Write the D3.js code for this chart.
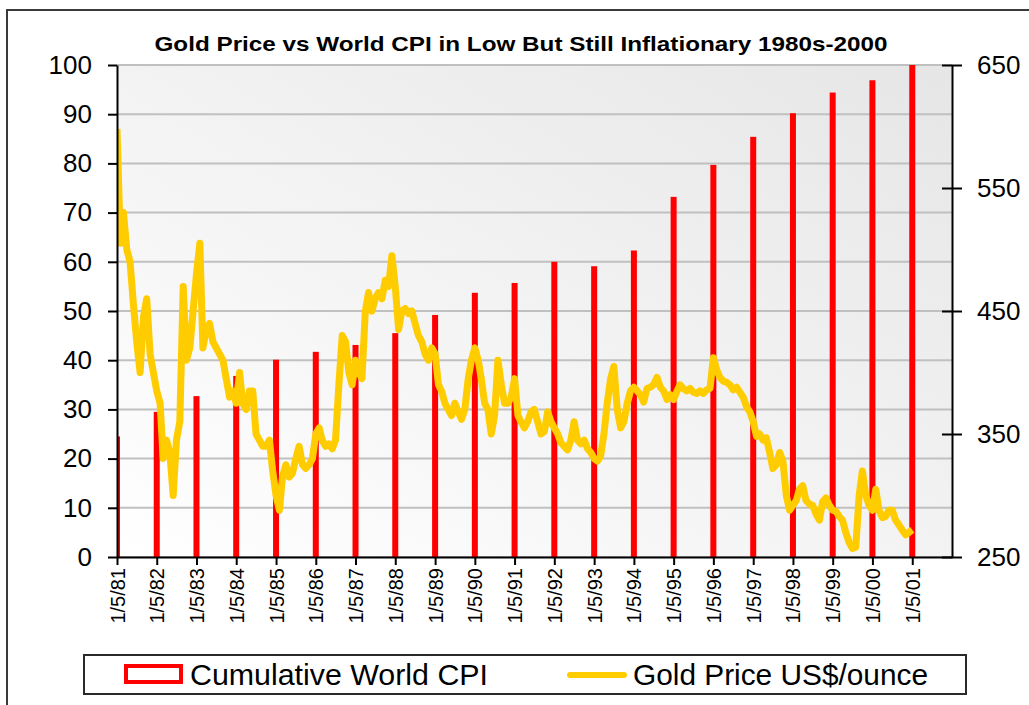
<!DOCTYPE html>
<html>
<head>
<meta charset="utf-8">
<script src="https://cdn.jsdelivr.net/npm/d3@7"></script>
<style>
  body { margin: 0; background: #fff; }
  svg text { font-family: "Liberation Sans", Arial, sans-serif; }
</style>
</head>
<body>
<div id="canvas"></div>
<script>
// CPI bars, one per year (left axis)
var years = [1981, 1982, 1983, 1984, 1985, 1986, 1987, 1988, 1989, 1990, 1991,
             1992, 1993, 1994, 1995, 1996, 1997, 1998, 1999, 2000, 2001];
var cpiValues = [24.5, 29.5, 32.7, 36.8, 40.1, 41.7, 43.1, 45.5, 49.2, 53.7, 55.7,
                 60.0, 59.1, 62.3, 73.2, 79.7, 85.4, 90.2, 94.4, 96.9, 100];
var tickLabels = ["1/5/81", "1/5/82", "1/5/83", "1/5/84", "1/5/85", "1/5/86", "1/5/87",
                  "1/5/88", "1/5/89", "1/5/90", "1/5/91", "1/5/92", "1/5/93", "1/5/94",
                  "1/5/95", "1/5/96", "1/5/97", "1/5/98", "1/5/99", "1/5/00", "1/5/01"];

// Gold price, monthly from Jan 1981 to Jan 2001 (right axis)
var goldPrices = [
  598, 505, 530, 500, 490, 455, 425, 400, 445, 460, 415, 400,   // 1981
  385, 375, 330, 345, 335, 300, 345, 360, 470, 410, 420, 450,   // 1982
  480, 505, 420, 435, 440, 425, 420, 415, 410, 395, 380, 385,   // 1983
  375, 400, 375, 370, 385, 385, 350, 345, 340, 340, 345, 320,   // 1984
  300, 288, 315, 325, 315, 318, 330, 340, 325, 322, 325, 330,   // 1985
  350, 355, 345, 340, 342, 338, 345, 390, 430, 425, 400, 390,   // 1986
  410, 400, 395, 450, 465, 450, 460, 465, 460, 475, 470, 495,   // 1987
  470, 435, 450, 452, 448, 450, 440, 430, 425, 415, 410, 420,   // 1988
  415, 390, 385, 375, 370, 365, 375, 368, 362, 370, 395, 410,   // 1989
  420, 410, 395, 375, 370, 350, 365, 410, 390, 375, 375, 380,   // 1990
  395, 365, 360, 355, 360, 368, 370, 360, 350, 352, 368, 360,   // 1991
  355, 350, 343, 340, 337, 345, 360, 345, 342, 345, 338, 335,   // 1992
  330, 328, 332, 350, 375, 395, 405, 370, 355, 360, 375, 385,   // 1993
  388, 385, 382, 376, 387, 388, 390, 396, 388, 385, 378, 382,   // 1994
  378, 385, 390, 387, 385, 387, 384, 383, 385, 383, 386, 387,   // 1995
  412, 402, 396, 393, 392, 390, 386, 388, 384, 380, 372, 368,   // 1996
  360, 348, 350, 345, 347, 335, 322, 325, 335, 328, 300, 288,   // 1997
  292, 296, 305, 308, 296, 293, 292, 285, 280, 295, 298, 292,   // 1998
  288, 287, 283, 280, 270, 262, 257, 258, 300, 320, 300, 292,   // 1999
  288, 305, 288, 282, 283, 288, 288, 280, 276, 272, 268, 270,   // 2000
  272                                                           // 2001
];

var leftTicks = [0, 10, 20, 30, 40, 50, 60, 70, 80, 90, 100];
var rightTicks = [250, 350, 450, 550, 650];

(function(d3){

  var canvas_d = {width: 1029, height: 705},
      margin = {top: 65, right: 77, bottom: 148, left: 117},
      chart_d = {
        width: canvas_d.width - margin.left - margin.right,
        height: canvas_d.height - margin.top - margin.bottom
      },
      canvas,
      chart;

  canvas = d3.select('#canvas').append('svg')
      .attr('width', canvas_d.width)
      .attr('height', canvas_d.height);

  // outer frame
  canvas.append('rect')
      .attr('x', 7).attr('y', 10)
      .attr('width', 1060).attr('height', 740)
      .attr('fill', 'none')
      .attr('stroke', '#3a3a3a')
      .attr('stroke-width', 2);

  var defs = canvas.append('defs');
  var grad = defs.append('linearGradient')
      .attr('id', 'bg')
      .attr('x1', 0).attr('y1', 1).attr('x2', 1).attr('y2', 0);
  grad.append('stop').attr('offset', '0%').attr('stop-color', '#ffffff');
  grad.append('stop').attr('offset', '100%').attr('stop-color', '#e6e6e6');

  defs.append('clipPath').attr('id', 'plotclip')
    .append('rect')
      .attr('width', chart_d.width)
      .attr('height', chart_d.height);

  chart = canvas.append('g')
      .attr('transform', 'translate(' + margin.left + ',' + margin.top + ')');

  var x = d3.scaleTime()
      .domain([new Date(1981, 0, 5), new Date(2002, 0, 5)])
      .range([0, chart_d.width]);
  var yLeft = d3.scaleLinear().domain([0, 100]).range([chart_d.height, 0]);
  var yRight = d3.scaleLinear().domain([250, 650]).range([chart_d.height, 0]);

  var tickDates = years.map(function(y){ return new Date(y, 0, 5); });

  // background
  chart.append('rect')
      .attr('width', chart_d.width)
      .attr('height', chart_d.height)
      .attr('fill', 'url(#bg)');

  // gridlines
  chart.selectAll('line.grid')
      .data(leftTicks)
    .enter().append('line')
      .attr('class', 'grid')
      .attr('x1', 0).attr('x2', chart_d.width)
      .attr('y1', function(d){ return yLeft(d); })
      .attr('y2', function(d){ return yLeft(d); })
      .attr('stroke', '#c0c0c0')
      .attr('stroke-width', 2);

  var plot = chart.append('g').attr('clip-path', 'url(#plotclip)');

  // CPI bars
  plot.selectAll('rect.bar')
      .data(cpiValues)
    .enter().append('rect')
      .attr('class', 'bar')
      .attr('x', function(d, i){ return x(tickDates[i]) - 3; })
      .attr('width', 6)
      .attr('y', function(d){ return yLeft(d); })
      .attr('height', function(d){ return chart_d.height - yLeft(d); })
      .attr('fill', '#ff0000');

  // gold line
  var line = d3.line()
      .x(function(d, i){ return x(new Date(1981, i, 5)); })
      .y(function(d){ return yRight(d); });

  plot.append('path')
      .datum(goldPrices)
      .attr('d', line)
      .attr('fill', 'none')
      .attr('stroke', '#ffcc00')
      .attr('stroke-width', 7)
      .attr('stroke-linejoin', 'round');

  // left axis
  var gLeft = chart.append('g')
      .call(d3.axisLeft(yLeft).tickValues(leftTicks).tickSize(9).tickSizeOuter(0).tickPadding(16));

  // right axis (ticks cross the line)
  var gRight = chart.append('g')
      .attr('transform', 'translate(' + chart_d.width + ',0)')
      .call(d3.axisRight(yRight).tickValues(rightTicks).tickSize(10).tickSizeOuter(0).tickPadding(15));
  gRight.selectAll('.tick line').attr('x1', -10);

  // x axis
  var gX = chart.append('g')
      .attr('transform', 'translate(0,' + chart_d.height + ')')
      .call(d3.axisBottom(x).tickValues(tickDates).tickSize(8).tickSizeOuter(0)
        .tickFormat(function(d, i){ return tickLabels[i]; }));
  gX.selectAll('.tick text')
      .attr('transform', 'rotate(-90)')
      .attr('x', -11)
      .attr('y', 0)
      .attr('dy', '0.35em')
      .style('text-anchor', 'end')
      .style('font-size', '20px');

  [gLeft, gRight, gX].forEach(function(g){
    g.select('.domain').attr('stroke', '#000').attr('stroke-width', 2);
    g.selectAll('.tick line').attr('stroke', '#000').attr('stroke-width', 2);
    g.selectAll('.tick text').attr('fill', '#000');
  });
  gLeft.selectAll('.tick text').style('font-size', '26px');
  gRight.selectAll('.tick text').style('font-size', '26px');

  // title
  canvas.append('text')
      .attr('x', 521)
      .attr('y', 51)
      .attr('text-anchor', 'middle')
      .attr('textLength', 733)
      .attr('lengthAdjust', 'spacingAndGlyphs')
      .style('font-size', '21px')
      .style('font-weight', 'bold')
      .text('Gold Price vs World CPI in Low But Still Inflationary 1980s-2000');

  // legend
  var legend = canvas.append('g');
  legend.append('rect')
      .attr('x', 84).attr('y', 655)
      .attr('width', 882).attr('height', 39)
      .attr('fill', '#fff')
      .attr('stroke', '#2a2a2a')
      .attr('stroke-width', 2);
  legend.append('rect')
      .attr('x', 126).attr('y', 666)
      .attr('width', 55).attr('height', 16)
      .attr('fill', '#fff')
      .attr('stroke', '#ff0000')
      .attr('stroke-width', 4);
  legend.append('text')
      .attr('x', 190).attr('y', 685)
      .attr('textLength', 298)
      .attr('lengthAdjust', 'spacingAndGlyphs')
      .style('font-size', '29px')
      .text('Cumulative World CPI');
  legend.append('line')
      .attr('x1', 570).attr('x2', 624)
      .attr('y1', 675).attr('y2', 675)
      .attr('stroke', '#ffcc00')
      .attr('stroke-width', 6)
      .attr('stroke-linecap', 'round');
  legend.append('text')
      .attr('x', 633).attr('y', 685)
      .attr('textLength', 295)
      .attr('lengthAdjust', 'spacingAndGlyphs')
      .style('font-size', '29px')
      .text('Gold Price US$/ounce');

})(d3);
</script>
</body>
</html>
